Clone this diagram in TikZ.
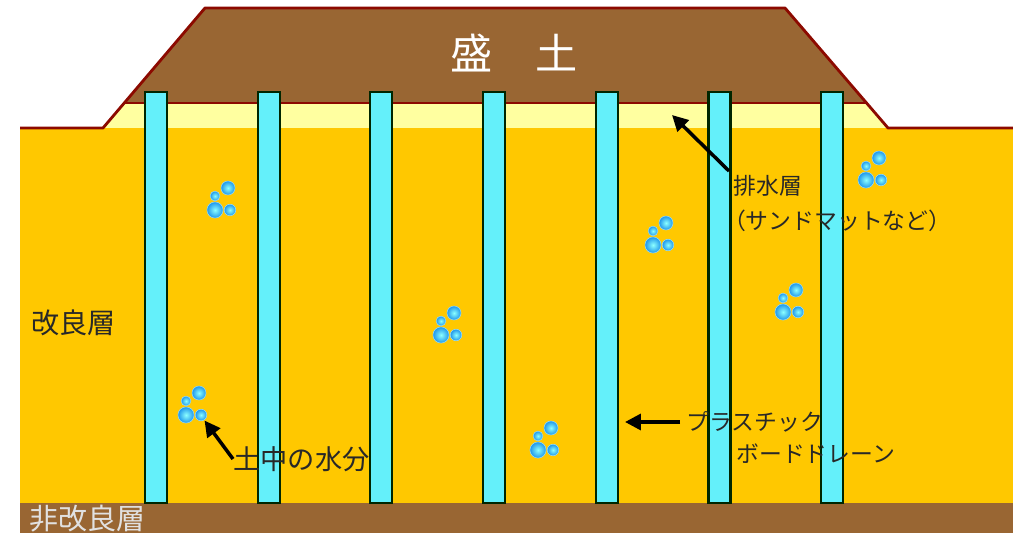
\documentclass[tikz,border=0pt]{standalone}
\usepackage{fontspec}
\newfontfamily\jp{Noto Sans CJK JP}
\usetikzlibrary{arrows.meta}

\definecolor{soil}{RGB}{255,200,0}
\definecolor{embank}{RGB}{153,102,51}
\definecolor{sandmat}{RGB}{255,255,160}
\definecolor{edge}{RGB}{140,10,0}
\definecolor{drain}{RGB}{100,240,250}
\definecolor{drop}{RGB}{30,150,235}
\definecolor{ink}{RGB}{40,40,40}
\definecolor{pale}{RGB}{225,225,225}

\begin{document}
\begin{tikzpicture}[
  x=0.02cm, y=-0.02cm,
  edge line/.style = {draw=edge, line width=1.6pt, line join=round},
  drain bar/.style = {fill=drain, draw=black!85!green, line width=1.2pt},
  pointer/.style = {-{Triangle[length=9pt,width=9pt]}, line width=2pt, draw=black},
  label text/.style = {font=\jp\fontsize{13}{20}\selectfont, text=ink, inner sep=0pt},
  big text/.style = {font=\jp\fontsize{15.5}{18}\selectfont, text=ink, inner sep=0pt},
  bubble/.style = {inner color=cyan!45!white, outer color=drop, draw=cyan!40!white, line width=0.3pt},
  drops/.pic = {
    \shade[bubble] (-7,10) circle[radius=4.6pt];
    \shade[bubble] (6,-12) circle[radius=4pt];
    \shade[bubble] (-7,-4) circle[radius=2.8pt];
    \shade[bubble] (8,10) circle[radius=3.3pt];
  }
  ]
	\useasboundingbox (0,0) rectangle (1013,533);
	\fill[white] (0,0) rectangle (1013,533);

	% ground and the layer below it
	\fill[soil] (20,128) rectangle (1013,503);
	\fill[embank] (20,503) rectangle (1013,533);

	% embankment on top of the sand mat
	\fill[sandmat] (103,128) -- (124,103) -- (867,103) -- (888,128) -- cycle;
	\fill[embank] (124,103) -- (205,8) -- (785,8) -- (867,103) -- cycle;
	\draw[edge line] (124,103) -- (867,103);
	\draw[edge line] (20,128) -- (103,128) -- (205,8) -- (785,8) -- (888,128) -- (1013,128);

	\node[font=\jp\fontsize{24}{24}\selectfont, text=white] (mound) at (514,53) {盛　土};

	% board drains
	\foreach \i in {0,...,6} {
		\pgfmathsetmacro\cx{156+112.7*\i}
		\draw[drain bar] (\cx-11,92) rectangle (\cx+11,503);
	}

	% water in the soil
	\foreach \x/\y [count=\k] in {222/200,873/170,660/235,448/325,790/302,193/405,545/440} {
		\coordinate (w\k) at (\x,\y);
		\pic at (w\k) {drops};
	}

	\node[label text, anchor=north west, align=left] (mat) at (733,175) {排水層\\\hspace*{-0.45em}（サンドマットなど）};
	\coordinate (mattip) at (672,115);
	\draw[pointer] ([shift={(-4,-4)}]mat.north west) -- (mattip);

	\node[label text, anchor=west] (pbd1) at (686,422) {プラスチック};
	\node[label text, anchor=west] (pbd2) at (736,454) {ボードドレーン};
	\coordinate (pbdtip) at (625,422);
	\draw[pointer] ([shift={(-6,0)}]pbd1.west) -- (pbdtip);

	\node[big text, anchor=west] (mizu) at (233,459) {土中の水分};
	\draw[pointer, shorten >=11pt] (mizu.west) -- (w6);

	\node[big text, font=\jp\fontsize{16}{18}\selectfont, anchor=west] (kairyo) at (31,323) {改良層};
	\node[big text, font=\jp\fontsize{16.5}{18}\selectfont, text=pale, anchor=west] (hikairyo) at (29,519) {非改良層};

\end{tikzpicture}
\end{document}
